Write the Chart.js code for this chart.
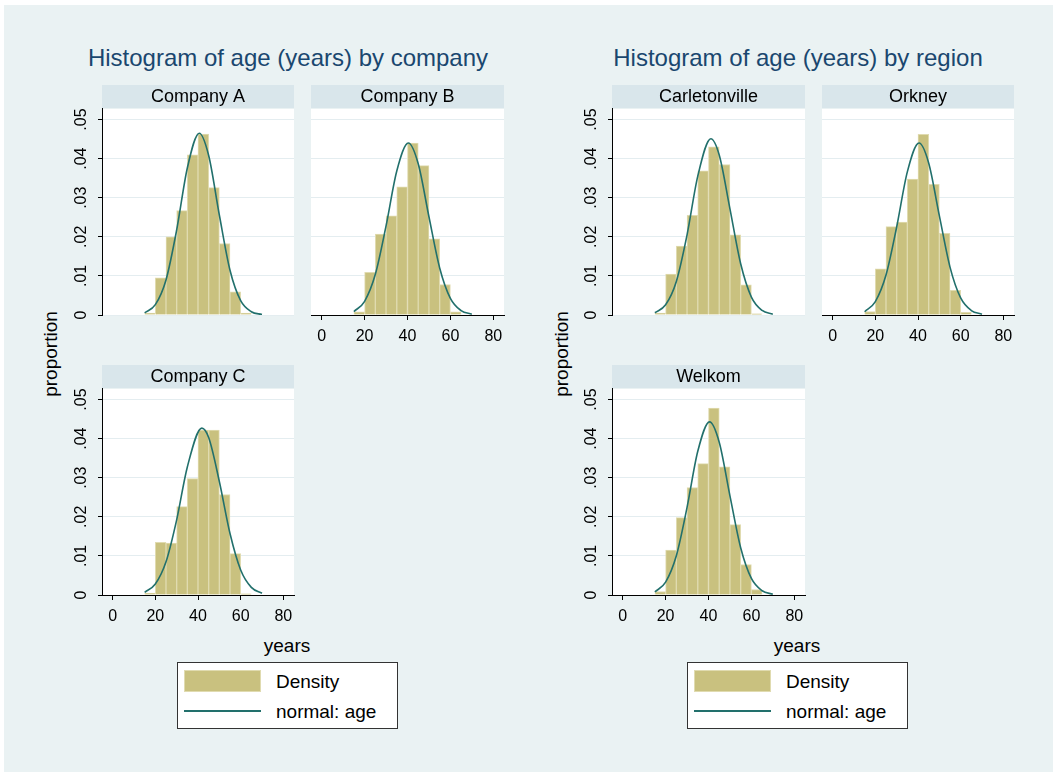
<!DOCTYPE html>
<html>
<head>
<meta charset="utf-8">
<script src="https://cdn.jsdelivr.net/npm/chart.js@4.4.0/dist/chart.umd.min.js"></script>
<style>
  body { margin: 0; background: #fff; width: 1053px; height: 772px; overflow: hidden;
         font-family: 'Liberation Sans', Arial, sans-serif; position: relative; }
  #bg { position: absolute; left: 4px; top: 5px; right: 0; bottom: 0; background: #eaf2f3; }
  canvas { position: absolute; }
  .title { position: absolute; top: 44px; width: 510px; text-align: center; font-size: 24px;
           line-height: 28px; color: #1a476f; white-space: nowrap; }
  .ytitle { position: absolute; top: 354px; font-size: 19px; white-space: nowrap;
            transform: translate(-50%, -50%) rotate(-90deg); }
  .xtitle { position: absolute; top: 646px; font-size: 19px; transform: translate(-50%, -50%); }
  .legend { position: absolute; top: 662px; width: 219px; height: 65px; background: #fff;
            border: 1px solid #333; font-size: 19px; }
  .legend .swatch { position: absolute; left: 6px; top: 7px; width: 77px; height: 22px;
                    box-sizing: border-box; background: #c9c17f; border: 1px solid #e0dbb0; }
  .legend .line { position: absolute; left: 6px; top: 47px; width: 77px; height: 2px; background: #22706c; }
  .legend .txt { position: absolute; left: 98px; line-height: 22px; white-space: nowrap; }
</style>
</head>
<body>
<div id="bg"></div>

<div class="title" style="left:33px">Histogram of age (years) by company</div>
<div class="title" style="left:543px">Histogram of age (years) by region</div>

<div class="ytitle" style="left:51px">proportion</div>
<div class="ytitle" style="left:562px">proportion</div>
<div class="xtitle" style="left:287px">years</div>
<div class="xtitle" style="left:797px">years</div>

<div class="legend" style="left:177px">
  <div class="swatch"></div><div class="txt" style="top:8px">Density</div>
  <div class="line"></div><div class="txt" style="top:38px">normal: age</div>
</div>
<div class="legend" style="left:687px">
  <div class="swatch"></div><div class="txt" style="top:8px">Density</div>
  <div class="line"></div><div class="txt" style="top:38px">normal: age</div>
</div>

<script>
// --- data ---
const binStarts = [15, 20, 25, 30, 35, 40, 45, 50, 55, 60];
const binWidth = 5;

const companyA = [0.0005, 0.0095, 0.0200, 0.0267, 0.0410, 0.0463, 0.0326, 0.0183, 0.0059, 0.0005];
const companyB = [0.0008, 0.0109, 0.0207, 0.0254, 0.0328, 0.0440, 0.0382, 0.0195, 0.0078, 0.0008];
const companyC = [0.0005, 0.0135, 0.0133, 0.0226, 0.0298, 0.0422, 0.0422, 0.0257, 0.0106, 0.0003];
const carletonville = [0.0005, 0.0105, 0.0176, 0.0255, 0.0369, 0.0430, 0.0385, 0.0205, 0.0077, 0.0003];
const orkney = [0.0009, 0.0118, 0.0226, 0.0238, 0.0348, 0.0462, 0.0334, 0.0209, 0.0063, 0.0007];
const welkom = [0.0009, 0.0115, 0.0198, 0.0275, 0.0336, 0.0478, 0.0328, 0.0180, 0.0078, 0.0014];

// normal curves (x, density)
const normAx = [15, 20, 25, 30, 35, 40.6, 45, 50, 55, 60, 65, 70];
const normAy = [0.00055, 0.00264, 0.00897, 0.02175, 0.03762, 0.0465, 0.0408, 0.02558, 0.01144, 0.00365, 0.00083, 0.00013];
const normBx = [15, 20, 25, 30, 35, 40.4, 45, 50, 55, 60, 65, 70];
const normBy = [0.00087, 0.00351, 0.01041, 0.02279, 0.03685, 0.0440, 0.03869, 0.02513, 0.01204, 0.00426, 0.00111, 0.00021];
const normCx = [15, 20, 25, 30, 35, 41.8, 45, 50, 55, 60, 65, 70];
const normCy = [0.0007, 0.0028, 0.00848, 0.01923, 0.03276, 0.0427, 0.04027, 0.02904, 0.01573, 0.0064, 0.00196, 0.00045];
const normCarlx = [15, 20, 25, 30, 35, 41.1, 45, 50, 55, 60, 65, 70];
const normCarly = [0.00058, 0.00261, 0.00859, 0.02051, 0.03554, 0.0451, 0.04092, 0.02717, 0.0131, 0.00459, 0.00117, 0.00022];
const normOrkx = [15, 20, 25, 30, 35, 40.5, 45, 50, 55, 60, 65, 70];
const normOrky = [0.00084, 0.00342, 0.01021, 0.02251, 0.03661, 0.0440, 0.0389, 0.02542, 0.01226, 0.00436, 0.00114, 0.00022];
const normWelx = [15, 20, 25, 30, 35, 40.5, 45, 50, 55, 60, 65, 70];
const normWely = [0.0008, 0.00331, 0.01005, 0.02243, 0.03676, 0.0443, 0.0391, 0.02538, 0.0121, 0.00424, 0.00109, 0.00021];

const xTicks = [0, 20, 40, 60, 80];
const yTicks = [0, 0.01, 0.02, 0.03, 0.04, 0.05];
const yTickLabels = ['0', '.01', '.02', '.03', '.04', '.05'];

// --- look ---
const FONT = "'Liberation Sans', Arial, sans-serif";
const BAR_FILL = '#c9c17f';
const BAR_EDGE = '#e0dbb0';
const CURVE = '#22706c';
const STRIP = 24;
const PLOT_H = 206;

Chart.defaults.font.family = FONT;
Chart.defaults.color = '#000';

// paints the grey label strip and the white plot region
const stripPlugin = {
  id: 'strip',
  beforeDraw(chart) {
    const { ctx, chartArea: a } = chart;
    const t = chart.titleBlock;
    ctx.save();
    ctx.fillStyle = '#d9e6eb';
    ctx.fillRect(a.left, t.top, a.right - a.left, t.bottom - t.top - 1);
    ctx.fillStyle = '#fff';
    ctx.fillRect(a.left, a.top, a.right - a.left, a.bottom - a.top);
    ctx.restore();
  }
};

// keep the plot box fixed: no extra room for overhanging tick labels
const noOverhang = (s) => {
  s.paddingTop = 0;
  s.paddingBottom = 0;
  s.paddingLeft = 0;
  s.paddingRight = 0;
};

const drawPanel = (p) => {
  const yW = p.yAxis ? 44 : 0;
  const xH = p.xAxis ? 40 : 0;
  const below = p.xAxis ? 0 : 14; // room for the "0" label under a panel without x axis
  const canvas = document.createElement('canvas');
  canvas.width = yW + p.plotW + 2;
  canvas.height = STRIP + PLOT_H + xH + below;
  canvas.style.left = (p.plotL - yW) + 'px';
  canvas.style.top = (p.plotT - STRIP) + 'px';
  document.body.appendChild(canvas);

  new Chart(canvas, {
    type: 'line',
    data: {
      datasets: [
        {
          type: 'line',
          data: p.curveX.map((x, i) => ({ x, y: p.curveY[i] })),
          borderColor: CURVE,
          borderWidth: 1.6,
          pointRadius: 0,
          cubicInterpolationMode: 'monotone',
          fill: false,
          order: 1
        },
        {
          type: 'bar',
          data: binStarts.map((s, i) => ({ x: s + binWidth / 2, y: p.bars[i] })),
          backgroundColor: BAR_FILL,
          borderColor: BAR_EDGE,
          borderWidth: 1,
          barPercentage: 1,
          categoryPercentage: 1,
          order: 2
        }
      ]
    },
    options: {
      responsive: false,
      animation: false,
      devicePixelRatio: 1,
      layout: { padding: { left: 0, right: 2, top: 0, bottom: below } },
      plugins: {
        legend: { display: false },
        tooltip: { enabled: false },
        title: {
          display: true,
          text: p.label,
          fullSize: false,
          color: '#000',
          font: { size: 18, weight: 'normal', lineHeight: 1.2 },
          padding: { top: 1, bottom: 1.4 }
        }
      },
      scales: {
        x: {
          type: 'linear',
          min: -5,
          max: 85,
          offset: false,
          display: p.xAxis,
          afterBuildTicks: (s) => { s.ticks = xTicks.map(v => ({ value: v })); },
          afterFit: (s) => { s.height = xH; noOverhang(s); },
          grid: { drawOnChartArea: false, drawTicks: true, tickLength: 5, tickColor: '#000', offset: false },
          border: { display: true, color: '#000', width: 1, z: 1 },
          ticks: { font: { size: 16 }, padding: 7, maxRotation: 0, autoSkip: false }
        },
        y: {
          type: 'linear',
          min: 0,
          max: 0.0527,
          afterBuildTicks: (s) => { s.ticks = yTicks.map(v => ({ value: v })); },
          afterFit: (s) => { s.width = yW; noOverhang(s); },
          grid: { color: '#e4edf0', lineWidth: 1, drawTicks: p.yAxis, tickLength: 4, tickColor: '#000' },
          border: { display: p.yAxis, color: '#000', width: 1, z: 1 },
          ticks: {
            display: p.yAxis,
            minRotation: 90,
            maxRotation: 90,
            crossAlign: 'center',
            padding: 5,
            font: { size: 16 },
            callback: (v) => yTickLabels[yTicks.indexOf(v)]
          }
        }
      }
    },
    plugins: [stripPlugin]
  });
};

const panels = [
  { label: 'Company A', plotL: 102, plotT: 109, plotW: 192, yAxis: true, xAxis: false, bars: companyA, curveX: normAx, curveY: normAy },
  { label: 'Company B', plotL: 311, plotT: 109, plotW: 193, yAxis: false, xAxis: true, bars: companyB, curveX: normBx, curveY: normBy },
  { label: 'Company C', plotL: 102, plotT: 389, plotW: 192, yAxis: true, xAxis: true, bars: companyC, curveX: normCx, curveY: normCy },
  { label: 'Carletonville', plotL: 612, plotT: 109, plotW: 193, yAxis: true, xAxis: false, bars: carletonville, curveX: normCarlx, curveY: normCarly },
  { label: 'Orkney', plotL: 822, plotT: 109, plotW: 192, yAxis: false, xAxis: true, bars: orkney, curveX: normOrkx, curveY: normOrky },
  { label: 'Welkom', plotL: 612, plotT: 389, plotW: 193, yAxis: true, xAxis: true, bars: welkom, curveX: normWelx, curveY: normWely }
];

panels.forEach(drawPanel);
</script>
</body>
</html>
